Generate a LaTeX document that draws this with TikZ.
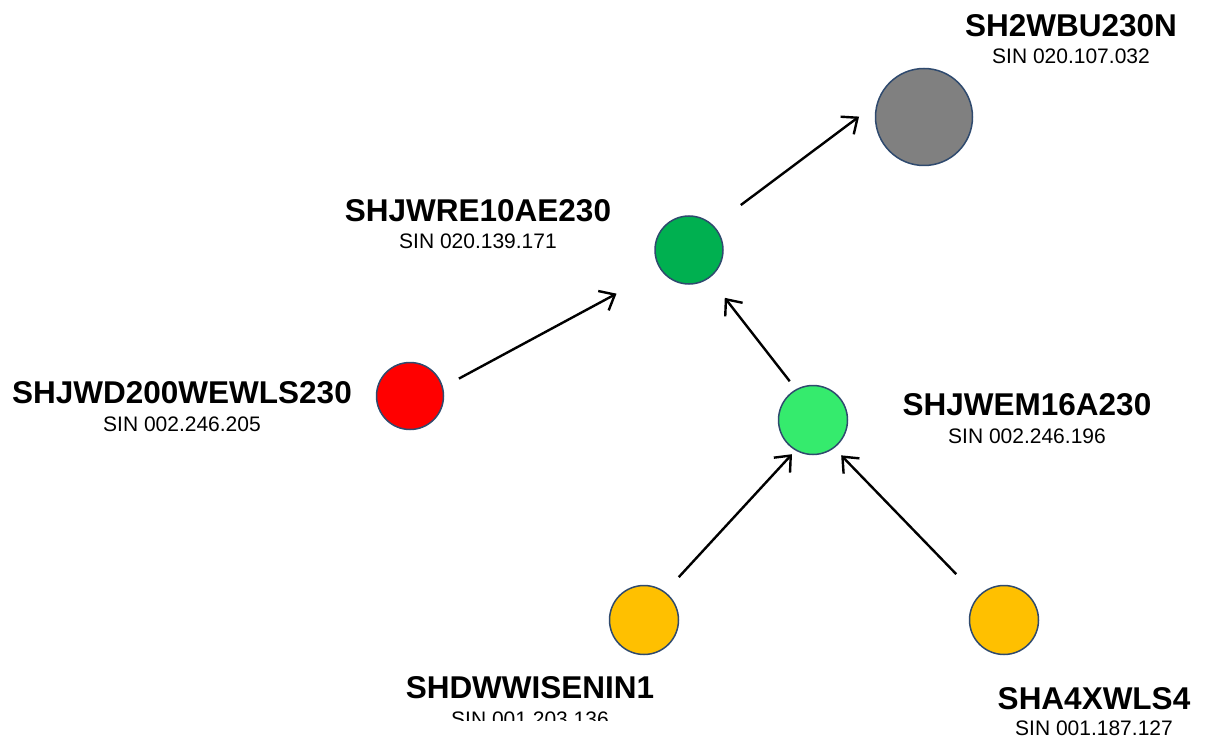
\documentclass[tikz,border=0pt]{standalone}
\usepackage{fontspec}
\setmainfont{Liberation Sans}
\usetikzlibrary{positioning, arrows.meta}
\definecolor{ringc}{HTML}{2F4A6E}
\definecolor{greyst}{HTML}{808080}
\definecolor{darkst}{HTML}{00B050}
\definecolor{redst}{HTML}{FF0000}
\definecolor{lightst}{HTML}{35EB6D}
\definecolor{yellowst}{HTML}{FFC000}
\newcommand{\NameF}{\fontsize{31.5}{33}\selectfont\bfseries}
\newcommand{\SinF}{\fontsize{21}{24}\selectfont}

\begin{document}
\begin{tikzpicture}[x=1pt, y=-1pt,
    station/.style={circle, draw=ringc, line width=1.5pt, inner sep=0pt, minimum size=#1},
    namelbl/.style={anchor=base, inner sep=0pt, font=\NameF},
    sinlbl/.style={anchor=base, inner sep=0pt, font=\SinF},
    link/.style={-{Straight Barb[length=13pt, width=22pt, line width=2.4pt]}, line width=2.4pt}]
  \useasboundingbox (0,0) rectangle (1205,738);

  % stations
  \node[station=97pt, fill=greyst]   (wbu)  at (924,117) {};
  \node[station=68pt, fill=darkst]   (wre)  at (689,250) {};
  \node[station=67pt, fill=redst]    (wd)   at (410,396) {};
  \node[station=69pt, fill=lightst]  (wem)  at (813,420) {};
  \node[station=69pt, fill=yellowst] (wwi)  at (644,620) {};
  \node[station=69pt, fill=yellowst] (xwls) at (1004,620) {};

  % labels
  \node[namelbl] (wbu-name)  at (1071,37)  {SH2WBU230N};
  \node[sinlbl]  (wbu-sin)   at (1071,64)  {SIN 020.107.032};
  \node[namelbl] (wre-name)  at (478,222)  {SHJWRE10AE230};
  \node[sinlbl]  (wre-sin)   at (478,249)  {SIN 020.139.171};
  \node[namelbl] (wd-name)   at (182,403)  {SHJWD200WEWLS230};
  \node[sinlbl]  (wd-sin)    at (182,431)  {SIN 002.246.205};
  \node[namelbl] (wem-name)  at (1027,415) {SHJWEM16A230};
  \node[sinlbl]  (wem-sin)   at (1027,443) {SIN 002.246.196};
  \node[namelbl] (wwi-name)  at (530,698)  {SHDWWISENIN1};
  \begin{scope}
    \clip (0,0) rectangle (1205,720);
    \node[sinlbl] (wwi-sin)  at (530,726)  {SIN 001.203.136};
  \end{scope}
  \node[namelbl] (xwls-name) at (1094,709) {SHA4XWLS4};
  \node[sinlbl]  (xwls-sin)  at (1094,735) {SIN 001.187.127};

  % flows
  \draw[link, shorten <=34pt, shorten >=22pt] (wre.45)   -- (wbu.164);
  \draw[link, shorten <=18pt, shorten >=50pt] (wd.15)    -- (wre.215);
  \draw[link, shorten <=10pt, shorten >=25pt] (wem.119)  -- (wre.306);
  \draw[link, shorten <=20pt, shorten >=5pt]  (wwi.53)   -- (wem.240);
  \draw[link, shorten <=31pt, shorten >=10pt] (xwls.138) -- (wem.307);
\end{tikzpicture}
\end{document}
